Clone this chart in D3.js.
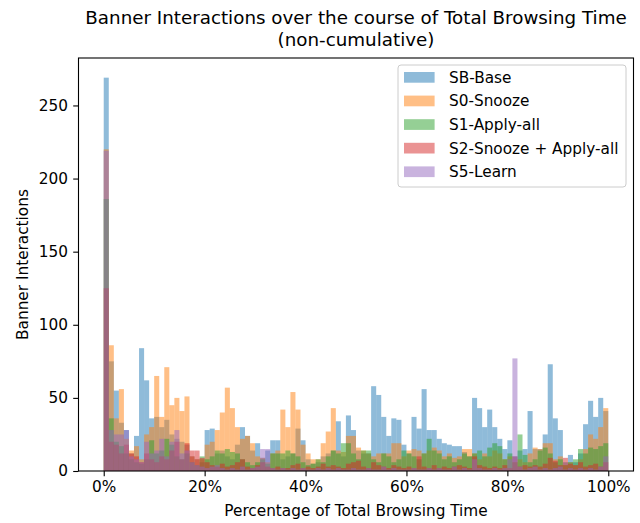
<!DOCTYPE html>
<html><head><meta charset="utf-8">
<script src="https://cdn.jsdelivr.net/npm/d3@7"></script>
<style>body{margin:0;background:#fff;} svg{display:block;font-family:"DejaVu Sans",sans-serif;}</style>
</head><body>
<script>
const seriesNames = ["SB-Base","S0-Snooze","S1-Apply-all","S2-Snooze + Apply-all","S5-Learn"];
const seriesColors = ["#1f77b4","#ff7f0e","#2ca02c","#d62728","#9467bd"];
const xTicks = [0,20,40,60,80,100];
const yTicks = [0,50,100,150,200,250];
// counts per 1% bin (0-1%, 1-2%, ... 99-100%)
const sbBase = [269,75,55,33,28,12,24,84,62,36, 37,30,35,25,22,20,18,10,8,6,
  28,29,12,14,10,8,18,30,24,14, 19,9,14,21,21,8,10,12,29,21,
  8,5,6,10,12,14,34,10,38,28, 14,12,12,58,52,37,24,36,35,18,
  12,37,29,56,28,28,22,19,18,17, 17,13,10,50,43,30,42,30,22,15,
  21,10,14,15,41,15,15,25,73,36, 28,6,11,6,12,32,48,37,50,41];
const s0Snooze = [220,86,36,56,22,14,17,8,25,30, 65,37,71,45,50,41,51,10,8,8,
  18,20,28,40,57,43,30,22,24,19, 10,9,6,12,14,42,30,54,42,18,
  12,8,8,19,27,43,14,13,24,24, 16,14,12,10,12,12,12,19,19,10,
  14,15,14,12,14,16,14,10,12,9, 10,15,15,12,8,12,10,14,12,8,
  10,6,8,6,12,16,15,19,19,8, 10,4,6,4,8,15,25,22,30,43];
const s1ApplyAll = [186,36,20,17,12,8,6,5,8,21, 12,14,22,18,10,8,12,6,4,10,
  8,10,14,12,15,13,12,8,6,4, 6,8,5,12,12,12,14,12,10,6,
  4,5,8,6,10,14,12,19,19,12, 8,14,14,8,6,12,10,6,8,14,
  12,10,8,12,22,14,12,8,10,6, 8,12,10,12,14,10,16,19,17,8,
  12,6,25,11,6,8,14,16,12,6, 8,4,6,8,15,12,16,15,17,19];
const s2SnoozeApply = [125,20,18,12,18,12,10,6,12,8, 6,10,8,14,20,8,19,14,14,9,
  6,4,3,5,3,4,6,8,3,2, 4,6,3,2,3,2,2,4,5,2,
  3,2,3,5,3,4,3,2,5,6, 7,3,2,6,4,3,2,4,3,2,
  3,2,10,3,2,4,2,3,2,3, 4,3,2,10,4,3,2,3,2,4,
  2,10,3,4,3,4,3,5,9,7, 4,9,5,4,6,3,4,5,3,6];
const s5Learn = [219,28,25,25,28,10,8,6,20,12, 14,22,10,20,28,12,14,6,4,3,
  2,3,4,2,1,2,1,3,1,2, 3,15,15,2,1,2,1,2,1,2,
  1,1,2,1,2,1,2,1,1,2, 1,1,2,1,1,3,1,2,1,1,
  1,2,1,1,2,1,2,1,1,3, 1,2,1,8,2,1,1,2,1,2,
  8,77,3,1,2,3,1,2,1,2, 3,1,2,1,2,1,2,1,3,10];
const allSeries = [sbBase, s0Snooze, s1ApplyAll, s2SnoozeApply, s5Learn];

const W = 640, H = 523;
const m = {left: 78.5, right: 633.5, top: 58, bottom: 471};
const svg = d3.select("body").append("svg").attr("width", W).attr("height", H);

const x = d3.scaleLinear().domain([-5, 105]).range([m.left, m.right]);
const ymax = d3.max(allSeries, s => d3.max(s)) * 1.05;
const y = d3.scaleLinear().domain([0, ymax]).range([m.bottom, m.top]);

const plot = svg.append("g");
allSeries.forEach((vals, si) => {
  plot.selectAll(null).data(vals).enter().append("rect")
    .attr("x", (d, i) => x(i))
    .attr("width", (d, i) => x(i + 1) - x(i))
    .attr("y", d => y(d))
    .attr("height", d => y(0) - y(d))
    .attr("fill", seriesColors[si])
    .attr("fill-opacity", 0.5);
});

const FS = "15.3px";
// axes
const xAxis = d3.axisBottom(x).tickValues(xTicks).tickFormat(d => d + "%").tickSize(5.3).tickPadding(5.3);
const yAxis = d3.axisLeft(y).tickValues(yTicks).tickSize(5.3).tickPadding(5.3);
const gx = svg.append("g").attr("transform", `translate(0,${m.bottom})`).call(xAxis);
const gy = svg.append("g").attr("transform", `translate(${m.left},0)`).call(yAxis);
[gx, gy].forEach(g => {
  g.select(".domain").remove();
  g.selectAll("text").attr("font-size", FS).attr("fill", "#000").attr("font-family", "DejaVu Sans");
  g.selectAll("line").attr("stroke", "#000").attr("stroke-width", 1.1);
});
// frame
svg.append("rect").attr("x", m.left).attr("y", m.top)
  .attr("width", m.right - m.left).attr("height", m.bottom - m.top)
  .attr("fill", "none").attr("stroke", "#000").attr("stroke-width", 1.1);

// titles
const cx = (m.left + m.right) / 2;
svg.append("text").attr("x", cx).attr("y", 23.5).attr("text-anchor", "middle")
  .attr("font-size", "18.3px").text("Banner Interactions over the course of Total Browsing Time");
svg.append("text").attr("x", cx).attr("y", 45.5).attr("text-anchor", "middle")
  .attr("font-size", "18.3px").text("(non-cumulative)");
svg.append("text").attr("x", cx).attr("y", 516).attr("text-anchor", "middle")
  .attr("font-size", FS).text("Percentage of Total Browsing Time");
svg.append("text").attr("transform", `translate(28,${(m.top + m.bottom) / 2}) rotate(-90)`)
  .attr("text-anchor", "middle").attr("font-size", FS).text("Banner Interactions");

// legend
const lg = svg.append("g");
lg.append("rect").attr("x", 398).attr("y", 65).attr("width", 228).attr("height", 122)
  .attr("rx", 3).attr("fill", "#fff").attr("fill-opacity", 0.8)
  .attr("stroke", "#cccccc").attr("stroke-width", 1);
seriesNames.forEach((name, i) => {
  const cy = 77.3 + i * 23.6;
  lg.append("rect").attr("x", 404).attr("y", cy - 5.3).attr("width", 30.6).attr("height", 10.7)
    .attr("fill", seriesColors[i]).attr("fill-opacity", 0.5);
  lg.append("text").attr("x", 449).attr("y", cy + 5.4).attr("font-size", FS).text(name);
});
</script>
</body></html>
